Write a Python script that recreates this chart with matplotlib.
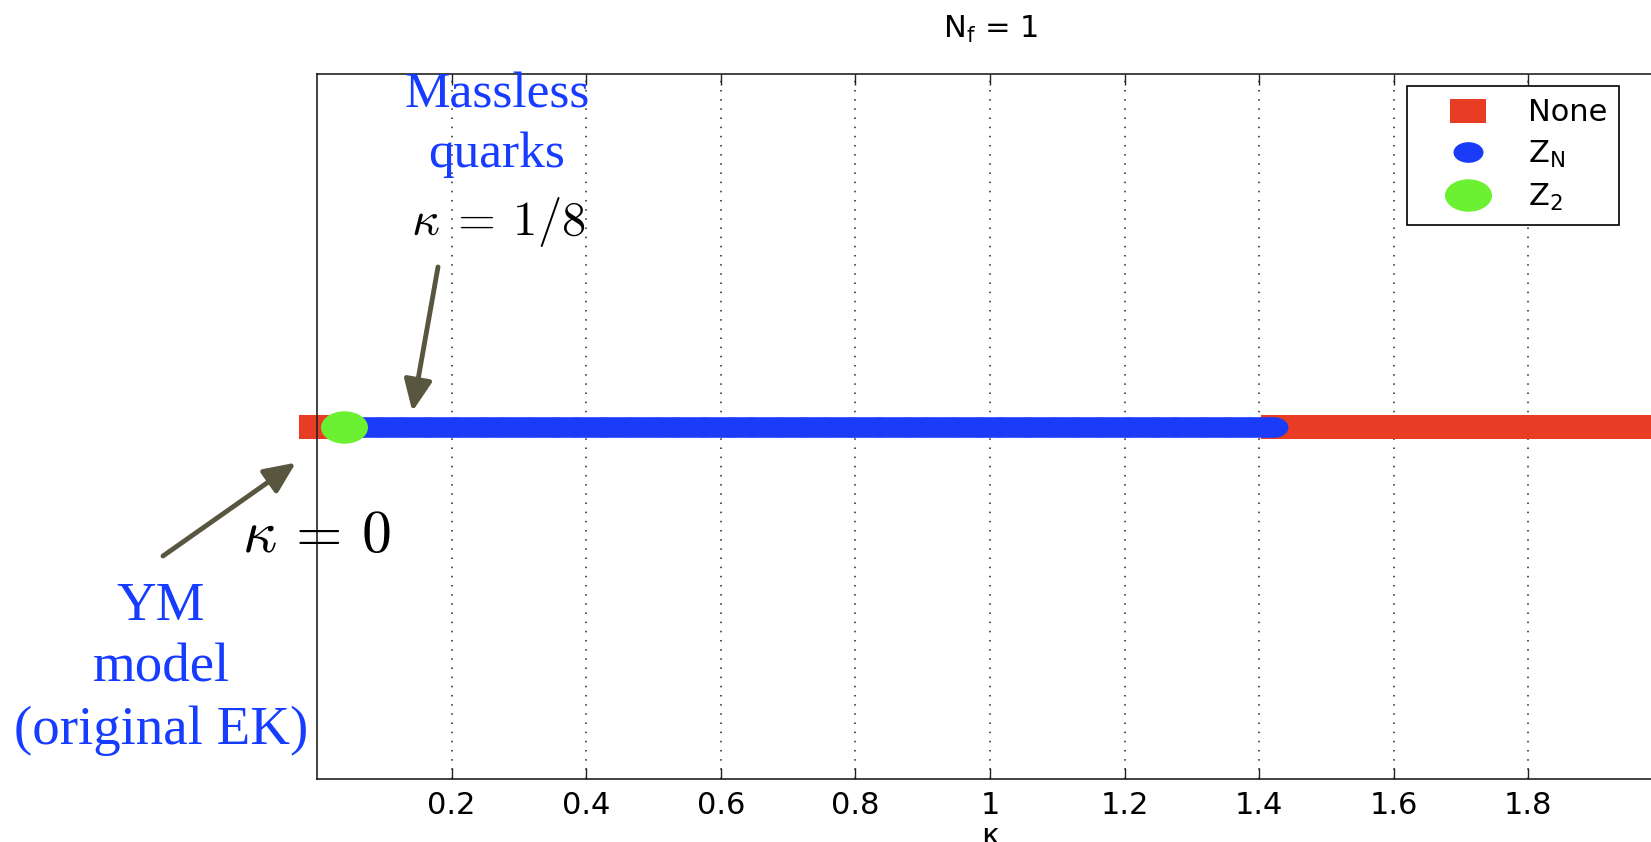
import numpy as np
import matplotlib.pyplot as plt
import matplotlib.transforms as mtransforms
from matplotlib.path import Path

W, H = 1651, 842

# kappa scan and the centre symmetry found at each point
kappa_step = 0.01
kappa_max = 2.0
z2_kappa = [0.04]
zn_range = (0.05, 1.42)

kappa_ticks = [0.2, 0.4, 0.6, 0.8, 1, 1.2, 1.4, 1.6, 1.8]
tick_labels = ["0.2", "0.4", "0.6", "0.8", "1", "1.2", "1.4", "1.6", "1.8"]
phase_labels = ["None", r"$\mathrm{Z_N}$", r"$\mathrm{Z_2}$"]
phase_colors = ["#e83c24", "#1a3cf8", "#6cf032"]

kappa = np.round(np.arange(0, kappa_max + kappa_step / 2, kappa_step), 2)
is_z2 = np.isin(kappa, z2_kappa)
is_zn = (kappa >= zn_range[0]) & (kappa <= zn_range[1])
is_none = ~(is_z2 | is_zn)

plt.rcParams['font.family'] = ['DejaVu Sans']
plt.rcParams['mathtext.fontset'] = 'dejavusans'


def wide(path, sx=1.45):
    # markers are drawn stretched sideways
    return Path(path.vertices * [sx, 1.0], path.codes)


square = wide(Path([(-1, -1), (1, -1), (1, 1), (-1, 1), (-1, -1)], closed=True))
oval = wide(Path.unit_circle())
px = 72 / 100.0  # points per pixel

fig = plt.figure(figsize=(W / 100, H / 100), dpi=100)
ax = fig.add_axes([317 / W, 63 / H, 1346 / W, 705 / H])
top_px = mtransforms.Affine2D().scale(1.0 / W, -1.0 / H).translate(0, 1) + fig.transFigure

h_none, = ax.plot(kappa[is_none], np.zeros(is_none.sum()), ls='none', marker=square,
                  ms=36 * px, mew=0, color=phase_colors[0], label=phase_labels[0])
h_zn, = ax.plot(kappa[is_zn], np.zeros(is_zn.sum()), ls='none', marker=oval,
                ms=30 * px, mew=0, color=phase_colors[1], label=phase_labels[1])
h_z2, = ax.plot(kappa[is_z2], np.zeros(is_z2.sum()), ls='none', marker=oval,
                ms=47 * px, mew=0, color=phase_colors[2], label=phase_labels[2])
for h in (h_none, h_zn, h_z2):
    h.set_clip_on(False)

ax.set_xlim(0, kappa_max)
ax.set_ylim(-1, 1)
ax.set_yticks([])
ax.set_xticks(kappa_ticks)
ax.set_xticklabels(tick_labels)
ax.tick_params(axis='x', direction='in', length=8, width=1, top=True,
               labelsize=22, pad=9, color='#222222')
ax.grid(axis='x', color='#222222', ls=(0, (1, 5)), lw=1.1)
for sp in ax.spines.values():
    sp.set_linewidth(1.2)
    sp.set_color('#222222')

ax.set_title(r"$\mathrm{N_f}$ = 1", fontsize=22, pad=26)
ax.set_xlabel("κ", fontsize=22, labelpad=1)

leg = ax.legend(handles=[h_none, h_zn, h_z2], loc='upper left',
                bbox_to_anchor=(1407, 86), bbox_transform=top_px, borderaxespad=0,
                fontsize=22, fancybox=False, framealpha=1, edgecolor='k',
                borderpad=0.4, handlelength=3.2, handletextpad=0.35,
                labelspacing=0.38, numpoints=1)
leg.get_frame().set_linewidth(1.2)

# annotations on top of the phase diagram
blue = '#163cff'
serif = 'Liberation Serif'
fig.text(497, 167, "Massless\nquarks", transform=top_px, ha='center', va='baseline',
         fontsize=37, family=serif, color=blue, linespacing=1.38)
fig.text(498, 235, r"$\kappa \: = \: 1/8$", transform=top_px, ha='center',
         va='baseline', fontsize=35, math_fontfamily='cm')
fig.text(316, 552, r"$\kappa \, = \, 0$", transform=top_px, ha='center',
         va='baseline', fontsize=43, math_fontfamily='cm')
fig.text(161, 744, "YM\nmodel\n(original EK)", transform=top_px, ha='center',
         va='baseline', fontsize=39.5, family=serif, color=blue, linespacing=1.3)

arrow = dict(arrowstyle='-|>,head_length=19,head_width=8.5', mutation_scale=1,
             lw=3.5, color='#595640', shrinkA=0, shrinkB=2)
ax.annotate('', xy=(0.141, 0.035), xytext=(438, 267), textcoords=top_px,
            arrowprops=arrow, annotation_clip=False)
ax.annotate('', xy=(-0.028, -0.098), xytext=(163, 556), textcoords=top_px,
            arrowprops=arrow, annotation_clip=False)

fig.savefig("out.png", dpi=100)
